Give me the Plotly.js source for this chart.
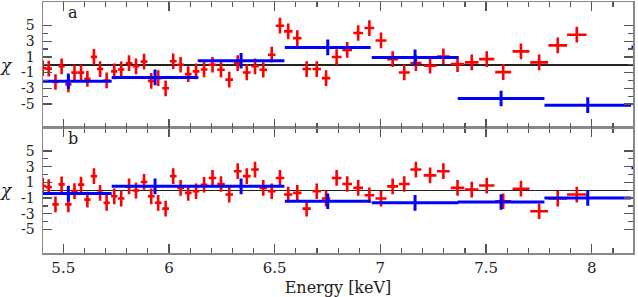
<!DOCTYPE html>
<html>
<head>
<meta charset="utf-8">
<script src="https://cdn.plot.ly/plotly-3.0.1.min.js"></script>
<style>html,body{margin:0;padding:0;background:#fff;}#chart{width:638px;height:297px;}</style>
</head>
<body>
<div id="chart"></div>
<script>
// Red data points (energies, keV) shared by both panels
const redEnergy = [5.403,5.431,5.463,5.492,5.524,5.553,5.584,5.614,5.645,5.674,5.705,5.741,5.774,
  5.811,5.844,5.882,5.916,5.949,5.984,6.020,6.055,6.091,6.128,6.166,
  6.206,6.246,6.285,6.325,6.368,6.407,6.446,6.486,
  6.525,6.564,6.607,6.651,6.699,6.743,
  6.793,6.843,6.895,6.948,
  7.003,7.058,7.113,7.168,
  7.235,7.298,7.365,7.432,7.503,7.581,7.665,7.751,7.839,7.929];
const redHalfWidth = [0.015,0.015,0.015,0.015,0.015,0.015,0.015,0.015,0.015,0.015,0.015,0.015,0.015,
  0.016,0.016,0.016,0.016,0.016,0.016,0.016,0.016,0.016,0.016,0.016,
  0.018,0.018,0.018,0.018,0.018,0.018,0.018,0.018,
  0.020,0.020,0.020,0.020,0.020,0.020,
  0.023,0.023,0.023,0.023,
  0.026,0.026,0.026,0.026,
  0.030,0.030,0.032,0.032,0.036,0.038,0.040,0.042,0.044,0.046];
const redChiA = [-0.45,-0.5,-2.2,-0.2,-2.5,-1.0,-1.0,-1.8,1.0,-0.55,-2.0,-0.85,-0.6,
  0.2,-0.2,0.4,-2.05,-1.7,-3.0,0.45,0.0,-1.2,-0.85,-0.6,
  0.0,-0.64,-1.9,0.2,-0.98,-0.2,-0.64,1.28,
  4.98,4.26,3.4,-0.55,-0.55,-1.7,
  0.98,1.9,4.05,4.68,
  3.1,0.72,-0.98,0.21,
  -0.13,1.06,0.09,0.3,0.72,-0.94,1.7,0.3,2.47,3.83];
const redChiB = [0.55,0.4,-1.8,0.75,-1.8,-0.1,0.72,-1.2,1.8,-0.34,-1.6,-0.77,-1.06,
  0.5,-0.04,1.06,-0.77,-1.6,-2.34,1.8,0.3,-0.34,-0.13,0.7,
  1.57,0.8,-0.55,2.43,1.8,2.64,0.3,-0.13,
  1.57,-0.55,-0.34,-2.34,-0.13,-1.06,
  1.57,0.8,0.3,-0.64,
  -1.06,0.5,0.8,2.64,
  1.9,2.43,0.3,0.09,0.6,-1.4,0.2,-2.68,-1.06,-0.55];
const redErr = redEnergy.map(() => 1);

// Blue wide bins
const blueEnergy = [5.524,5.934,6.341,6.751,7.164,7.571,7.981,8.393];
const blueHalfWidth = [0.205,0.205,0.205,0.203,0.205,0.205,0.205,0.205];
const blueChiA = [-2.1,-1.62,0.51,2.21,0.94,-4.3,-5.15,2.26];
const blueChiB = [-0.43,0.5,0.5,-1.4,-1.6,-1.5,-0.98,2.86];
const blueErr = blueEnergy.map(() => 1);

const yTickVals = [-5,-3,-1,1,3,5];
const yTickText = ['-5','-3','-1','1','3','5'];
const yMinorVals = [-4,-2,0,2,4];
const xRange = [5.404, 8.195];

const RED = '#ff0000', BLUE = '#0000ff';
function crosses(x, y, xe, ye, color, thick, xa, ya) {
  return {
    type: 'scatter', mode: 'markers', x: x, y: y, xaxis: xa, yaxis: ya,
    marker: {size: 1, color: 'rgba(0,0,0,0)'},
    error_x: {type: 'data', array: xe, symmetric: true, color: color, thickness: thick, width: 0},
    error_y: {type: 'data', array: ye, symmetric: true, color: color, thickness: thick, width: 0},
    hoverinfo: 'skip', showlegend: false
  };
}

const data = [
  crosses(redEnergy, redChiA, redHalfWidth, redErr, RED, 2.6, 'x2', 'y2'),
  crosses(blueEnergy, blueChiA, blueHalfWidth, blueErr, BLUE, 3, 'x2', 'y2'),
  crosses(redEnergy, redChiB, redHalfWidth, redErr, RED, 2.6, 'x', 'y'),
  crosses(blueEnergy, blueChiB, blueHalfWidth, blueErr, BLUE, 3, 'x', 'y')
];

const FONT = 'DejaVu Serif';
const frame = {showline: true, linecolor: '#888', linewidth: 1.5, mirror: 'allticks', showgrid: false};
function xAxis(anchor, labels) {
  return Object.assign({}, frame, {
    anchor: anchor, range: xRange, tickmode: 'linear', tick0: 5.5, dtick: 0.5,
    ticks: 'inside', ticklen: 9, tickwidth: 1.2, tickcolor: '#555',
    minor: {tickmode: 'linear', tick0: 5.5, dtick: 0.1, ticks: 'inside', ticklen: 5, tickwidth: 1.2, tickcolor: '#555'},
    showticklabels: labels, zeroline: false,
    tickfont: {family: FONT, size: 15, color: '#222'}
  });
}
function yAxis(domain, anchor) {
  return Object.assign({}, frame, {
    domain: domain, anchor: anchor, range: [-8, 8], tickmode: 'array', tickvals: yTickVals, ticktext: yTickText,
    ticks: 'inside', ticklen: 9, tickwidth: 1.2, tickcolor: '#555',
    minor: {tickmode: 'array', tickvals: yMinorVals, ticks: 'inside', ticklen: 5, tickwidth: 1.2, tickcolor: '#555'},
    zeroline: true, zerolinecolor: '#222', zerolinewidth: 1.5,
    tickfont: {family: FONT, size: 14, color: '#222'}, ticklabelstandoff: 4
  });
}

const xa = xAxis('y', true);
xa.title = {text: 'Energy [keV]', font: {family: FONT, size: 16, color: '#222'}, standoff: 7};
const xa2 = xAxis('y2', false);
xa2.matches = 'x';

const chiFont = {family: FONT, size: 17, color: '#222', style: 'italic'};
const layout = {
  width: 638, height: 297,
  margin: {l: 43, r: 5, t: 2, b: 44},
  paper_bgcolor: '#fff', plot_bgcolor: '#fff',
  showlegend: false,
  xaxis: xa, xaxis2: xa2,
  yaxis: yAxis([0, 0.5], 'x'),
  yaxis2: yAxis([0.5, 1], 'x2'),
  annotations: [
    {text: 'χ', xref: 'paper', yref: 'y2', x: -0.062, y: 0, xanchor: 'center', yanchor: 'middle', showarrow: false,
     borderpad: 0, font: chiFont},
    {text: 'χ', xref: 'paper', yref: 'y', x: -0.062, y: 0, xanchor: 'center', yanchor: 'middle', showarrow: false,
     borderpad: 0, font: chiFont},
    {text: 'a', xref: 'paper', yref: 'y2', x: 0.05, y: 6.6, xanchor: 'center', yanchor: 'middle', showarrow: false,
     borderpad: 0, font: {family: FONT, size: 16, color: '#222'}},
    {text: 'b', xref: 'paper', yref: 'y', x: 0.05, y: 6.6, xanchor: 'center', yanchor: 'middle', showarrow: false,
     borderpad: 0, font: {family: FONT, size: 16, color: '#222'}}
  ]
};

Plotly.newPlot('chart', data, layout, {staticPlot: true, displayModeBar: false});
</script>
</body>
</html>
